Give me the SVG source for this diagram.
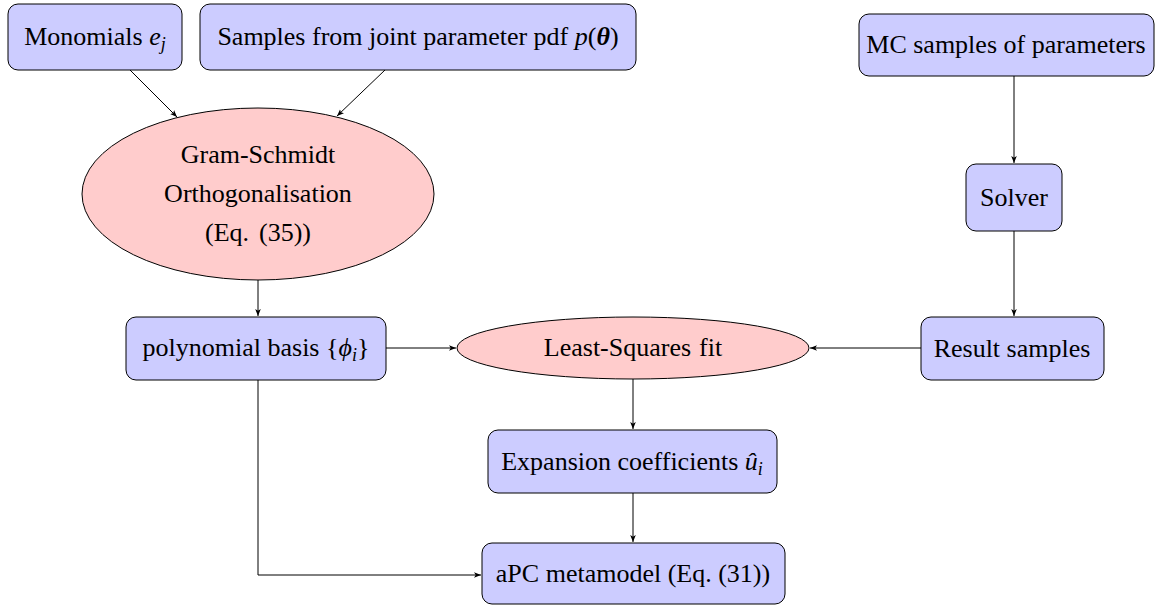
<svg xmlns="http://www.w3.org/2000/svg" width="1162" height="606" viewBox="0 0 1162 606">
<defs>
<marker id="ah" viewBox="0 0 10 10" refX="10" refY="5" markerWidth="7" markerHeight="7" markerUnits="userSpaceOnUse" orient="auto">
<path d="M0,1 L10,5 L0,9 L2.5,5 Z" fill="#000"/>
</marker>
<style>
.box{fill:#ccccff;stroke:#000;stroke-width:1}
.ell{fill:#ffcccc;stroke:#000;stroke-width:1}
.t{font-size:26px;fill:#000;text-anchor:middle}
.m{font-style:italic}
.c{fill:none;stroke:#000;stroke-width:1;marker-end:url(#ah)}
</style>
</defs>
<rect width="1162" height="606" fill="#fff"/>
<g font-family="'Liberation Serif', 'Times New Roman', 'DejaVu Serif', serif">
<g id="monomials">
<rect class="box" x="8" y="4" width="174" height="66" rx="10"/>
<text class="t" x="95" y="45">Monomials <tspan class="m">e</tspan><tspan class="m" font-size="18" dy="5">j</tspan></text>
</g>
<g id="samples">
<rect class="box" x="200" y="4" width="436" height="66" rx="10"/>
<text class="t" x="418" y="45">Samples from joint parameter pdf <tspan class="m">p</tspan>(<tspan font-weight="bold" class="m">θ</tspan>)</text>
</g>
<g id="mc">
<rect class="box" x="859" y="14" width="295" height="62" rx="10"/>
<text class="t" x="1006" y="53">MC samples of parameters</text>
</g>
<g id="solver">
<rect class="box" x="966" y="164" width="96" height="67" rx="10"/>
<text class="t" x="1014" y="206">Solver</text>
</g>
<g id="gramschmidt">
<ellipse class="ell" cx="258" cy="194" rx="176" ry="86"/>
<text class="t" x="258" y="163">Gram-Schmidt</text>
<text class="t" x="258" y="202">Orthogonalisation</text>
<text class="t" x="258" y="241">(Eq.<tspan dx="10">(35))</tspan></text>
</g>
<g id="polybasis">
<rect class="box" x="126" y="317" width="260" height="63" rx="10"/>
<text class="t" x="256" y="356">polynomial basis {<tspan class="m">ϕ</tspan><tspan class="m" font-size="18" dy="5">i</tspan><tspan dy="-5">}</tspan></text>
</g>
<g id="leastsquares">
<ellipse class="ell" cx="633" cy="348" rx="176" ry="31"/>
<text class="t" x="633" y="356">Least-Squares<tspan dx="8">fit</tspan></text>
</g>
<g id="result">
<rect class="box" x="921" y="317" width="183" height="63" rx="10"/>
<text class="t" x="1012" y="357">Result samples</text>
</g>
<g id="expansion">
<rect class="box" x="488" y="430" width="289" height="63" rx="10"/>
<text class="t" x="632" y="470">Expansion coefficients <tspan class="m">û</tspan><tspan class="m" font-size="18" dy="5">i</tspan></text>
</g>
<g id="apc">
<rect class="box" x="482" y="543" width="303" height="61" rx="10"/>
<text class="t" x="633" y="582">aPC metamodel (Eq. (31))</text>
</g>
</g>
<g id="connectors">
<line class="c" x1="130" y1="70" x2="177" y2="117"/>
<line class="c" x1="385" y1="70" x2="337" y2="116"/>
<line class="c" x1="1014" y1="76" x2="1014" y2="163"/>
<line class="c" x1="1014" y1="231" x2="1014" y2="316"/>
<line class="c" x1="258" y1="280" x2="258" y2="316"/>
<line class="c" x1="386" y1="348" x2="456" y2="348"/>
<line class="c" x1="921" y1="348" x2="810" y2="348"/>
<line class="c" x1="633" y1="379" x2="633" y2="429"/>
<line class="c" x1="633" y1="493" x2="633" y2="542"/>
<polyline class="c" points="258,380 258,575 481,575"/>
</g>
</svg>
